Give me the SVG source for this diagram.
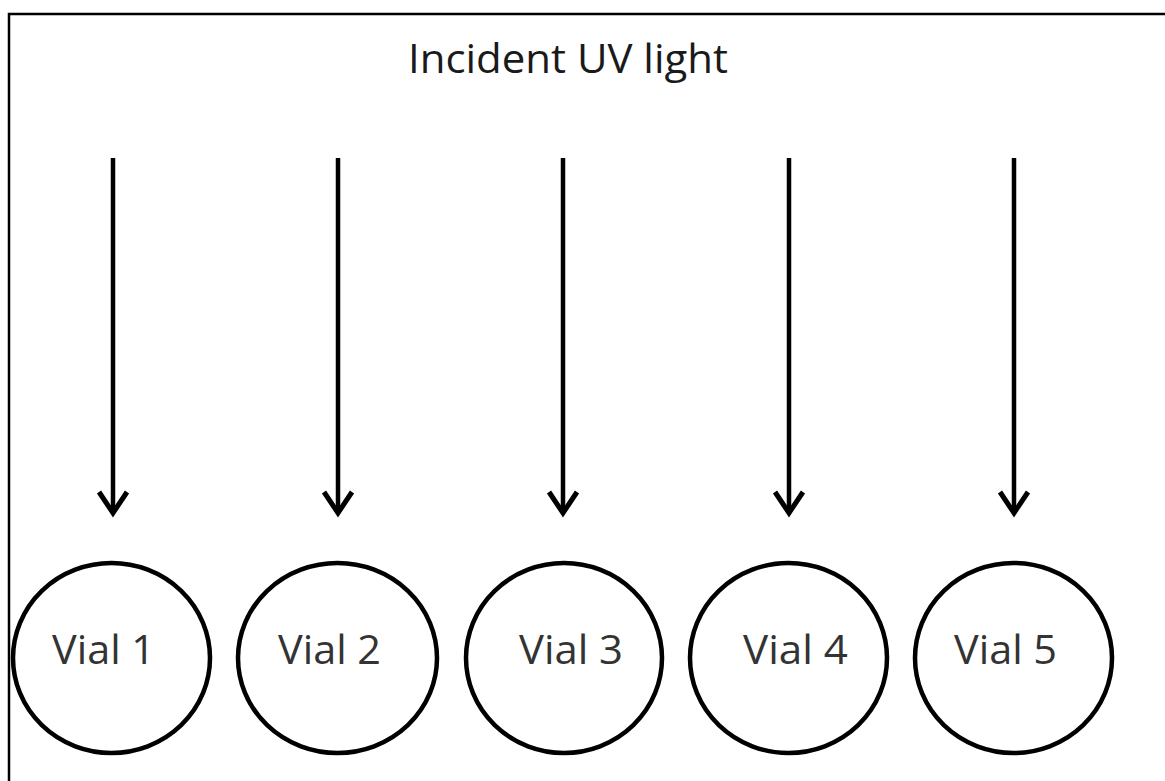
<svg xmlns="http://www.w3.org/2000/svg" width="1165" height="781" viewBox="0 0 1165 781">
  <style>
    .frame { fill: none; stroke: #000; stroke-width: 2.5; }
    .vial { fill: #fff; stroke: #000; stroke-width: 4.5; }
    .label { font-family: "Open Sans", "Liberation Sans", sans-serif; font-size: 40px; fill: #333; }
    .title { font-family: "Open Sans", "Liberation Sans", sans-serif; font-size: 40px; fill: #1a1a1a; }
    .shaft { stroke: #000; stroke-width: 4.5; fill: none; }
    .head { stroke: #000; stroke-width: 5; fill: none; stroke-linejoin: miter; stroke-linecap: butt; }
  </style>
  <rect width="1165" height="781" fill="#fff"/>
  <rect class="frame" x="9" y="14" width="1180" height="800"/>
  <text class="title" x="408" y="73" textLength="320" lengthAdjust="spacingAndGlyphs">Incident UV light</text>
  <g id="connectors">
    <g id="arrow1"><line class="shaft" x1="113" y1="158" x2="113" y2="512"/><path class="head" d="M99,492 L113,513 L127,492"/></g>
    <g id="arrow2"><line class="shaft" x1="338" y1="158" x2="338" y2="512"/><path class="head" d="M324,492 L338,513 L352,492"/></g>
    <g id="arrow3"><line class="shaft" x1="563" y1="158" x2="563" y2="512"/><path class="head" d="M549,492 L563,513 L577,492"/></g>
    <g id="arrow4"><line class="shaft" x1="789" y1="158" x2="789" y2="512"/><path class="head" d="M775,492 L789,513 L803,492"/></g>
    <g id="arrow5"><line class="shaft" x1="1014" y1="158" x2="1014" y2="512"/><path class="head" d="M1000,492 L1014,513 L1028,492"/></g>
  </g>
  <g id="vial1"><ellipse class="vial" cx="111.5" cy="658" rx="98.5" ry="95"/><text class="label" x="52" y="664" textLength="103" lengthAdjust="spacingAndGlyphs">Vial 1</text></g>
  <g id="vial2"><ellipse class="vial" cx="337.5" cy="658" rx="99.5" ry="95"/><text class="label" x="278" y="664" textLength="103" lengthAdjust="spacingAndGlyphs">Vial 2</text></g>
  <g id="vial3"><ellipse class="vial" cx="564" cy="658" rx="98" ry="95"/><text class="label" x="519" y="664" textLength="104" lengthAdjust="spacingAndGlyphs">Vial 3</text></g>
  <g id="vial4"><ellipse class="vial" cx="788.5" cy="658" rx="98.5" ry="95"/><text class="label" x="743" y="664" textLength="105" lengthAdjust="spacingAndGlyphs">Vial 4</text></g>
  <g id="vial5"><ellipse class="vial" cx="1013.5" cy="658" rx="98.5" ry="95"/><text class="label" x="954" y="664" textLength="103" lengthAdjust="spacingAndGlyphs">Vial 5</text></g>
</svg>
